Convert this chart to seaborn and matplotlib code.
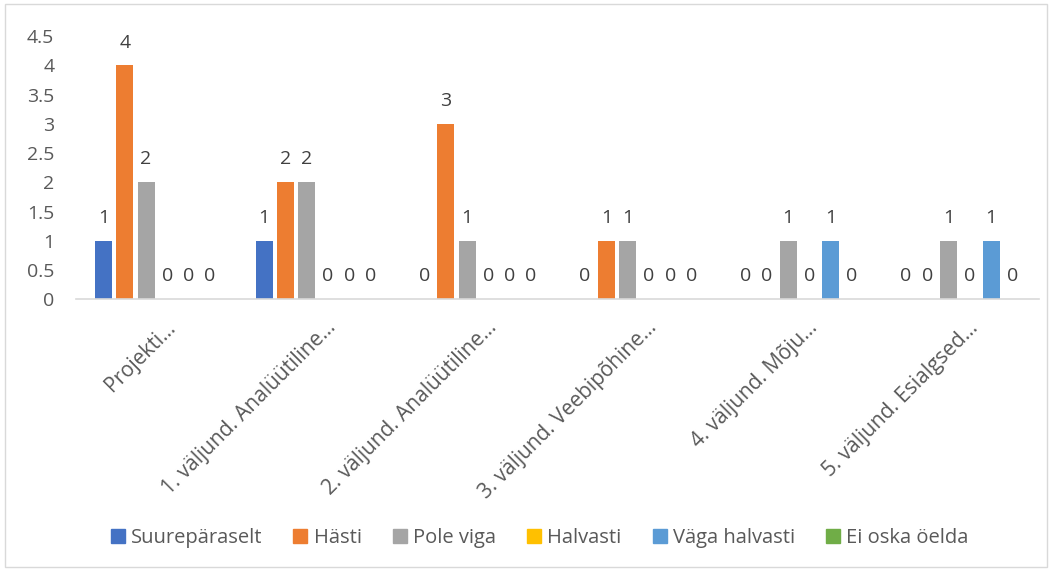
"""Grouped bar chart of assessment answers per project outcome."""

import matplotlib.pyplot as plt
import pandas as pd
import seaborn as sns
from matplotlib.lines import Line2D
from matplotlib.patches import Rectangle
from matplotlib.transforms import ScaledTranslation

categories = [
    "Projekti...",
    "1. väljund. Analüütiline...",
    "2. väljund. Analüütiline...",
    "3. väljund. Veebipõhine...",
    "4. väljund. Mõju...",
    "5. väljund. Esialgsed...",
]
series = ["Suurepäraselt", "Hästi", "Pole viga", "Halvasti", "Väga halvasti", "Ei oska öelda"]
suureparaselt = [1, 1, 0, 0, 0, 0]
hasti = [4, 2, 3, 1, 0, 0]
pole_viga = [2, 2, 1, 1, 1, 1]
halvasti = [0, 0, 0, 0, 0, 0]
vaga_halvasti = [0, 0, 0, 0, 1, 1]
ei_oska = [0, 0, 0, 0, 0, 0]
colors = ["#4472C4", "#ED7D31", "#A5A5A5", "#FFC000", "#5B9BD5", "#70AD47"]
yticks = [0, 0.5, 1, 1.5, 2, 2.5, 3, 3.5, 4, 4.5]

values = [suureparaselt, hasti, pole_viga, halvasti, vaga_halvasti, ei_oska]
rows = []
for name, vals in zip(series, values):
    for cat, v in zip(categories, vals):
        rows.append({"Kategooria": cat, "Hinnang": name, "Arv": v})
df = pd.DataFrame(rows)

sns.set_style("white")
plt.rcParams["font.family"] = ["Open Sans", "DejaVu Sans"]

fig = plt.figure(figsize=(10.52, 5.72), dpi=100)
ax = fig.add_axes([0.0727, 0.477, 0.9154, 0.4596])

sns.barplot(
    data=df,
    x="Kategooria",
    y="Arv",
    hue="Hinnang",
    hue_order=series,
    order=categories,
    palette=colors,
    width=0.795,
    gap=0.2,
    saturation=1,
    linewidth=0,
    legend=False,
    ax=ax,
)

# Data labels, including the zeros
for container in ax.containers:
    ax.bar_label(container, fmt="%g", padding=10, fontsize=14, color="#404040")

ax.set_ylim(0, 4.5)
ax.set_yticks(yticks)
ax.set_yticklabels([f"{t:g}" for t in yticks], fontsize=14, color="#595959")
ax.set_xlim(-0.5, len(categories) - 0.5)
ax.set_xlabel("")
ax.set_ylabel("")
ax.tick_params(axis="y", length=0, pad=16)
ax.tick_params(axis="x", length=0, pad=8)
shift = ScaledTranslation(6 / 72, -5 / 72, fig.dpi_scale_trans)
for lbl in ax.get_xticklabels():
    lbl.set_rotation(45)
    lbl.set_ha("right")
    lbl.set_rotation_mode("anchor")
    lbl.set_fontsize(15)
    lbl.set_color("#595959")
    lbl.set_transform(lbl.get_transform() + shift)
for side in ["left", "right", "top"]:
    ax.spines[side].set_visible(False)
ax.spines["bottom"].set_color("#D9D9D9")
ax.spines["bottom"].set_linewidth(1.2)

# Legend
handles = [
    Line2D([], [], marker="s", linestyle="", markersize=10, color=c) for c in colors
]
fig.legend(
    handles,
    series,
    loc="center",
    bbox_to_anchor=(0.513, 0.059),
    ncol=6,
    frameon=False,
    fontsize=14.5,
    handlelength=0.7,
    handletextpad=0.3,
    columnspacing=1.55,
    labelcolor="#595959",
)

# Chart border
fig.patches.append(
    Rectangle(
        (0.005, 0.008),
        0.99,
        0.985,
        transform=fig.transFigure,
        fill=False,
        edgecolor="#D9D9D9",
        linewidth=1,
    )
)

fig.savefig("out.png", dpi=100)
